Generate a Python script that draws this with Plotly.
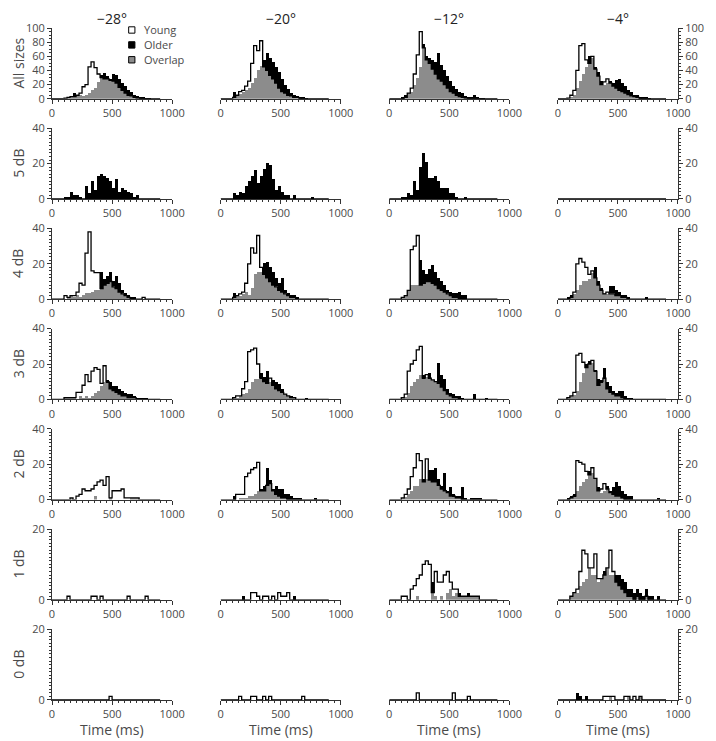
import numpy as np
import plotly.graph_objects as go
from plotly.subplots import make_subplots

# 25 ms bins from 0 to 900 ms (36 bins)
BIN_WIDTH = 25
BIN_LEFT = list(range(0, 900, BIN_WIDTH))

COLUMN_TITLES = ['\u221228\u00b0', '\u221220\u00b0', '\u221212\u00b0', '\u22124\u00b0']
ROW_TITLES = ['All sizes', '5 dB', '4 dB', '3 dB', '2 dB', '1 dB', '0 dB']
Y_MAX = [100, 40, 40, 40, 40, 20, 20]
Y_MINOR = [5, 2, 2, 2, 2, 1, 1]

ZERO = [0] * 36

# ---- All sizes (columns: -28, -20, -12, -4)
young_all = [
    [0,0,0,0,1,2,3,3,5,8,17,20,45,52,44,35,30,28,28,26,25,22,16,12,8,5,4,2,1,1,0,0,0,0,0,0],
    [0,0,0,0,2,5,10,12,18,25,50,75,68,82,45,40,33,28,22,15,10,8,5,4,2,2,1,0,0,0,0,0,0,0,0,0],
    [0,0,0,0,0,2,8,15,35,62,95,72,55,50,42,35,28,25,20,15,10,8,5,3,2,1,0,0,0,0,0,0,0,0,0,0],
    [0,0,0,1,5,12,40,75,78,55,50,60,42,32,20,24,28,22,18,15,12,10,8,6,4,3,2,1,0,0,0,0,0,0,0,0],
]
older_all = [
    [0,0,0,0,1,2,3,8,5,6,4,5,8,12,15,24,34,36,32,28,35,34,28,22,18,12,10,6,4,3,2,1,1,0,0,0],
    [0,0,0,0,9,4,8,10,12,15,22,30,40,47,55,65,58,52,45,38,28,20,14,8,5,3,2,2,1,0,0,0,0,0,0,0],
    [0,0,0,0,3,5,8,10,20,30,45,78,60,58,55,52,65,48,40,32,25,18,14,10,8,4,3,2,5,2,1,1,0,0,0,0],
    [0,0,0,1,3,6,15,25,35,45,60,57,45,38,25,20,22,25,22,27,28,22,18,12,10,6,5,3,2,2,1,0,0,0,0,0],
]

# ---- 5 dB
young_5db = [ZERO, ZERO, ZERO, ZERO]
older_5db = [
    [0,0,0,0,1,1,4,2,2,1,0,7,3,10,5,13,14,13,12,10,6,11,4,6,5,4,3,1,2,0,0,0,0,0,0,0],
    [0,0,0,0,3,2,4,3,7,10,13,16,9,13,17,20,19,11,5,7,4,2,2,0,2,0,0,0,0,0,1,0,0,0,0,0],
    [0,0,0,0,1,1,3,2,10,5,18,26,21,12,12,13,10,6,6,6,3,3,1,0,0,1,0,0,0,0,0,0,0,0,0,0],
    ZERO,
]

# ---- 4 dB
young_4db = [
    [0,0,0,0,2,1,2,2,4,9,8,26,38,16,15,15,6,8,9,10,7,6,4,3,2,1,0,0,0,0,1,0,0,0,0,0],
    [0,0,0,0,1,2,3,4,9,20,29,26,36,18,14,12,10,8,7,5,4,3,2,1,1,0,0,0,0,0,0,0,0,0,0,0],
    [0,0,0,0,1,2,5,28,30,36,8,9,10,10,9,8,6,5,4,3,2,1,1,0,0,0,0,0,0,0,0,0,0,0,0,0],
    [0,0,0,0,1,4,20,23,21,18,14,16,12,8,5,3,4,3,3,2,2,1,1,0,0,0,0,0,0,0,0,0,0,0,0,0],
]
older_4db = [
    [0,0,0,0,0,1,2,1,2,1,2,3,3,4,5,5,15,11,13,15,10,13,9,5,3,2,1,1,0,0,0,0,0,0,0,0],
    [0,0,0,0,3,2,2,3,4,2,6,14,15,15,20,21,18,15,12,9,12,5,3,2,2,1,0,0,0,0,0,0,0,0,0,0],
    [0,0,0,0,1,2,5,8,8,8,22,16,14,17,19,15,12,10,8,5,4,3,3,4,2,2,0,0,0,0,0,0,0,0,0,0],
    [0,0,0,1,2,3,5,8,10,10,11,15,18,10,6,3,3,7,7,5,4,2,2,1,0,0,0,0,0,1,0,0,0,0,0,0],
]

# ---- 3 dB
young_3db = [
    [0,0,0,0,1,1,1,1,4,4,8,14,10,16,18,17,9,19,10,6,5,4,3,2,2,1,1,1,0,0,0,0,0,0,0,0],
    [0,0,0,0,1,2,2,6,10,27,28,29,20,12,10,9,12,8,6,5,4,3,2,1,1,0,0,0,0,0,0,0,0,0,0,0],
    [0,0,0,0,1,3,16,20,22,28,30,12,14,12,11,10,9,7,5,3,2,1,1,0,0,0,0,0,0,0,0,0,0,0,0,0],
    [0,0,0,1,2,4,25,26,21,18,20,22,16,8,10,12,6,4,3,2,2,1,0,0,0,0,0,0,0,0,0,0,0,0,0,0],
]
older_3db = [
    [0,0,0,0,1,1,1,1,0,2,1,2,1,2,4,5,8,10,11,10,8,8,6,5,4,3,3,2,1,1,1,1,0,0,0,0],
    [0,0,0,0,1,1,2,3,4,6,10,12,12,15,13,16,10,11,10,9,6,3,2,2,1,0,0,0,1,0,0,0,0,0,0,0],
    [0,0,0,0,1,2,4,8,10,12,14,14,13,15,11,10,21,14,12,6,4,3,2,2,1,0,0,0,3,0,0,0,1,0,0,0],
    [0,0,0,1,2,3,5,10,15,20,22,21,17,12,11,18,10,8,5,4,5,5,2,1,1,0,0,0,0,0,0,0,0,0,0,0],
]

# ---- 2 dB
young_2db = [
    [0,0,0,0,0,0,1,0,2,3,6,5,5,6,8,10,11,8,13,1,5,5,5,6,1,1,1,1,1,0,0,0,0,0,0,0],
    [0,0,0,0,0,3,3,3,13,15,17,18,21,5,5,8,9,5,3,2,1,1,0,0,0,0,0,0,0,0,0,0,0,0,0,0],
    [0,0,0,0,1,3,6,13,18,26,22,10,23,11,10,10,8,6,5,4,2,2,1,1,0,0,0,0,0,0,0,0,0,0,0,0],
    [0,0,0,0,1,2,22,21,20,16,14,18,12,5,6,9,6,4,3,2,2,1,0,0,0,0,0,0,0,0,0,0,0,0,0,0],
]
older_2db = [
    [0,0,0,0,0,0,1,0,0,0,0,0,0,0,2,0,0,0,0,1,0,0,0,0,0,0,1,1,1,0,0,0,0,0,0,0],
    [0,0,0,0,2,0,1,1,1,2,2,3,5,6,8,18,11,6,8,6,6,3,3,2,1,1,1,0,0,0,0,1,0,0,0,0],
    [0,0,0,0,1,2,3,5,8,8,12,12,12,17,17,18,12,8,15,5,7,3,2,2,7,1,0,1,1,1,1,0,0,0,0,0],
    [0,0,0,1,2,3,5,8,10,12,16,15,12,7,4,5,8,5,7,10,8,5,3,2,2,0,0,0,0,0,0,0,0,1,0,0],
]

# ---- 1 dB
young_1db = [
    [0,0,0,0,0,1,0,0,0,0,0,0,0,1,1,0,1,0,0,0,0,0,0,0,0,1,0,0,0,0,0,1,0,0,0,0],
    [0,0,0,0,0,0,0,0,0,0,2,2,1,0,1,1,0,1,0,2,1,1,2,0,0,0,0,0,0,0,0,0,0,0,0,0],
    [0,0,0,0,1,1,0,3,4,6,7,10,11,10,2,8,5,5,7,8,5,3,3,1,1,1,1,1,1,1,0,0,0,0,0,0],
    [0,0,0,0,1,2,3,8,14,13,9,9,13,6,6,7,9,14,8,5,4,3,2,1,1,0,1,0,0,1,0,0,0,0,0,0],
]
older_1db = [
    ZERO,
    [0,0,0,0,0,0,0,1,0,0,0,0,0,0,0,0,0,0,0,0,0,0,0,0,1,0,0,0,0,0,0,0,0,0,0,0],
    [0,0,0,0,0,0,0,0,0,1,0,0,0,0,5,1,0,1,0,2,3,1,2,2,1,1,2,1,1,1,0,0,0,0,0,0],
    [0,0,0,0,1,2,2,4,5,6,9,7,7,5,6,8,9,7,7,7,7,6,5,3,3,2,3,2,1,3,1,1,0,1,0,0],
]

# ---- 0 dB
young_0db = [
    [0,0,0,0,0,0,0,0,0,0,0,0,0,0,0,0,0,0,0,1,0,0,0,0,0,0,0,0,0,0,0,0,0,0,0,0],
    [0,0,0,0,0,0,1,0,0,0,1,1,0,0,1,0,1,0,0,0,0,0,0,0,0,0,0,1,0,0,0,0,0,0,0,0],
    [0,0,0,0,0,0,0,0,0,2,0,0,0,0,0,0,0,0,0,0,0,2,0,0,0,0,1,0,0,0,0,0,0,0,0,0],
    [0,0,0,0,0,0,0,0,0,0,0,0,0,0,0,1,1,1,1,0,0,0,1,1,0,1,0,1,0,0,0,0,0,0,0,0],
]
older_0db = [
    ZERO,
    ZERO,
    ZERO,
    [0,0,0,0,0,0,2,1,0,1,0,0,0,0,0,0,0,1,0,0,0,0,0,1,0,0,0,1,0,0,0,0,0,0,0,0],
]

YOUNG = [young_all, young_5db, young_4db, young_3db, young_2db, young_1db, young_0db]
OLDER = [older_all, older_5db, older_4db, older_3db, older_2db, older_1db, older_0db]

OVERLAP_COLOR = '#8c8c8c'
OLDER_COLOR = '#000000'
YOUNG_COLOR = '#ffffff'
TEXT_COLOR = '#4a4a4a'
AXIS_COLOR = '#333333'
FONT = 'Open Sans, Liberation Sans, sans-serif'

centers = np.array(BIN_LEFT) + BIN_WIDTH / 2
step_x = [0] + BIN_LEFT + [900, 900]

fig = make_subplots(rows=7, cols=4, horizontal_spacing=0.0774, vertical_spacing=0.0438)

for r in range(7):
    for c in range(4):
        yv = np.array(YOUNG[r][c])
        ov = np.array(OLDER[r][c])
        assert len(yv) == 36 and len(ov) == 36, (r, c, len(yv), len(ov))
        base = np.minimum(yv, ov)
        top = np.abs(ov - yv)
        top_colors = np.where(ov > yv, OLDER_COLOR, YOUNG_COLOR)
        # overlap (gray) part
        fig.add_trace(go.Bar(x=centers, y=base, width=BIN_WIDTH,
                             marker=dict(color=OVERLAP_COLOR, line_width=0),
                             showlegend=False, hoverinfo='skip'), row=r + 1, col=c + 1)
        # part where one group exceeds the other
        fig.add_trace(go.Bar(x=centers, y=top, base=base, width=BIN_WIDTH,
                             marker=dict(color=list(top_colors), line_width=0),
                             showlegend=False, hoverinfo='skip'), row=r + 1, col=c + 1)
        # young outline
        step_y = [0] + list(yv) + [yv[-1], 0]
        fig.add_trace(go.Scatter(x=step_x, y=step_y, mode='lines',
                                 line=dict(color='black', width=1.3, shape='hv'),
                                 showlegend=False, hoverinfo='skip'), row=r + 1, col=c + 1)

fig.update_xaxes(
    range=[0, 1000], tickvals=[0, 500, 1000], ticks='outside', ticklen=4,
    tickcolor=AXIS_COLOR, showline=True, linecolor=AXIS_COLOR, linewidth=1,
    showgrid=False, zeroline=False,
    minor=dict(dtick=50, ticks='outside', ticklen=2, tickcolor=AXIS_COLOR),
    tickfont=dict(family=FONT, size=11, color=TEXT_COLOR),
)

for r in range(7):
    for c in range(4):
        common = dict(range=[0, Y_MAX[r]], dtick=20, showgrid=False, zeroline=False, fixedrange=True)
        if c == 0 or c == 3:
            fig.update_yaxes(
                **common, side='left' if c == 0 else 'right',
                showline=True, linecolor=AXIS_COLOR, linewidth=1,
                ticks='outside', ticklen=4, tickcolor=AXIS_COLOR,
                minor=dict(dtick=Y_MINOR[r], ticks='outside', ticklen=2, tickcolor=AXIS_COLOR),
                tickfont=dict(family=FONT, size=11, color=TEXT_COLOR),
                row=r + 1, col=c + 1)
        else:
            fig.update_yaxes(**common, visible=False, row=r + 1, col=c + 1)

annotations = []
for c in range(4):
    dom = fig.get_subplot(1, c + 1).xaxis.domain
    xc = (dom[0] + dom[1]) / 2
    annotations.append(dict(text=COLUMN_TITLES[c], x=xc, y=1.0148, xref='paper', yref='paper',
                            xanchor='center', yanchor='middle', showarrow=False,
                            font=dict(family=FONT, size=14, color='#222222')))
    annotations.append(dict(text='Time (ms)', x=xc, y=-0.0435, xref='paper', yref='paper',
                            xanchor='center', yanchor='middle', showarrow=False,
                            font=dict(family=FONT, size=14, color=TEXT_COLOR)))
for r in range(7):
    dom = fig.get_subplot(r + 1, 1).yaxis.domain
    annotations.append(dict(text=ROW_TITLES[r], x=-0.054, y=(dom[0] + dom[1]) / 2,
                            xref='paper', yref='paper', textangle=-90,
                            xanchor='center', yanchor='middle', showarrow=False,
                            font=dict(family=FONT, size=14, color=TEXT_COLOR)))

# legend inside the first panel (square bottom, square top, text centre in panel fractions)
legend_items = [('Young', YOUNG_COLOR, 0.927, 1.017, 0.972),
                ('Older', OLDER_COLOR, 0.716, 0.806, 0.761),
                ('Overlap', OVERLAP_COLOR, 0.506, 0.596, 0.551)]
shapes = []
for name, color, y0, y1, yt in legend_items:
    shapes.append(dict(type='rect', xref='x domain', yref='y domain',
                       x0=0.638, x1=0.690, y0=y0, y1=y1,
                       fillcolor=color, line=dict(color='black', width=1)))
    annotations.append(dict(text=name, x=0.745, y=yt, xref='x domain', yref='y domain',
                            xanchor='left', yanchor='middle', showarrow=False,
                            font=dict(family=FONT, size=11, color=TEXT_COLOR)))

# the page adds an 8 px body margin, so the figure is drawn 8 px smaller
# and its margins are shifted to keep the plot area where the reference has it
fig.update_layout(
    width=708, height=733,
    margin=dict(l=44, r=28, t=16, b=41),
    barmode='overlay', bargap=0,
    plot_bgcolor='white', paper_bgcolor='white',
    showlegend=False,
    annotations=annotations, shapes=shapes,
    font=dict(family=FONT, color=TEXT_COLOR),
)

fig.write_html("out.html")
